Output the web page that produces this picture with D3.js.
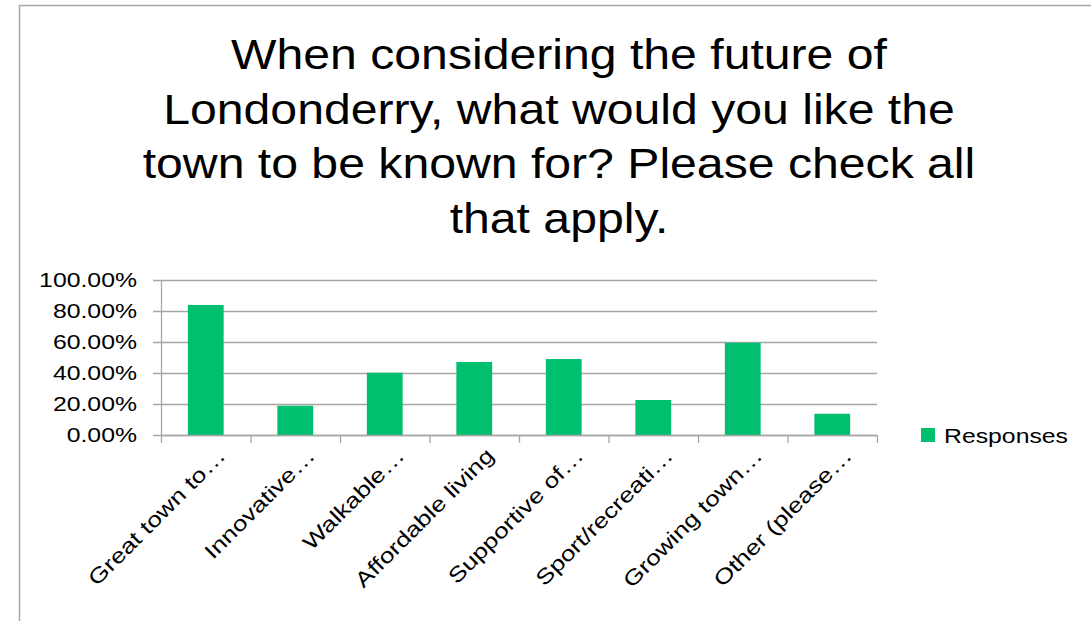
<!DOCTYPE html>
<html><head><meta charset="utf-8">
<script src="https://cdn.jsdelivr.net/npm/d3@7"></script>
<style>body{margin:0;background:#fff}svg{display:block}text{font-family:"Liberation Sans",Arial,sans-serif}</style>
</head><body>
<svg id="c" width="1091" height="621"></svg>
<script>
const categories = ["Great town to…","Innovative…","Walkable…","Affordable living","Supportive of…","Sport/recreati…","Growing town…","Other (please…"];
const values = [0.839, 0.189, 0.402, 0.471, 0.490, 0.226, 0.595, 0.137];
const yTicks = [0, 0.2, 0.4, 0.6, 0.8, 1.0];
const titleLines = ["When considering the future of","Londonderry, what would you like the","town to be known for? Please check all","that apply."];
const seriesName = "Responses";

const svg = d3.select("#c");
function stretch(sel, f){
  sel.each(function(){
    const L = this.getComputedTextLength();
    d3.select(this).attr("textLength", L*f).attr("lengthAdjust","spacingAndGlyphs");
  });
}
// frame
svg.append("rect").attr("x",19.5).attr("y",5.5).attr("width",1100).attr("height",700)
  .attr("fill","none").attr("stroke","#a6a6a6").attr("stroke-width",1.5);

// title
const tl = svg.append("g").selectAll("text").data(titleLines).join("text")
  .attr("text-anchor","middle").attr("font-size",43).attr("fill","#000")
  .attr("x",559).attr("y",(d,i)=>69+i*54.5).text(d=>d);
stretch(tl, 1.12);

const x = d3.scaleBand().domain(categories).range([161,877]).paddingInner(0.6).paddingOuter(0.3);
const y = d3.scaleLinear().domain([0,1]).range([435,280]);

// gridlines
svg.append("g").selectAll("line").data(yTicks).join("line")
  .attr("x1",153).attr("x2",877).attr("y1",d=>Math.round(y(d))+0.5).attr("y2",d=>Math.round(y(d))+0.5)
  .attr("stroke","#a6a6a6").attr("stroke-width",1.3);

// y axis
const yAxis = d3.axisLeft(y).tickValues(yTicks).tickFormat(d=>d3.format(".2f")(d*100)+"%").tickSize(0).tickPadding(24);
const gy = svg.append("g").attr("transform","translate(161,0)").call(yAxis);
gy.select(".domain").attr("stroke","#a6a6a6").attr("stroke-width",1.3);
gy.selectAll("text").attr("font-size",20).attr("fill","#000").attr("font-family","Liberation Sans, Arial, sans-serif");
stretch(gy.selectAll("text"), 1.24);

// bars
svg.append("g").selectAll("rect").data(values).join("rect")
  .attr("x",(d,i)=>x(categories[i])).attr("width",x.bandwidth())
  .attr("y",d=>y(d)).attr("height",d=>y(0)-y(d)).attr("fill","#00bf6f");

// x axis
const xPos = d3.scalePoint().domain(d3.range(categories.length+1)).range([161,877]);
const gx = svg.append("g");
gx.append("line").attr("x1",161).attr("x2",877).attr("y1",435.5).attr("y2",435.5).attr("stroke","#a6a6a6").attr("stroke-width",1.3);
gx.selectAll("line.t").data(d3.range(categories.length+1)).join("line").attr("class","t")
  .attr("x1",d=>xPos(d)+0.5).attr("x2",d=>xPos(d)+0.5).attr("y1",435).attr("y2",443)
  .attr("stroke","#a6a6a6").attr("stroke-width",1.3);
const xl = gx.selectAll("text").data(categories).join("text")
  .attr("text-anchor","end").attr("font-size",21).attr("fill","#000")
  .attr("transform",d=>`translate(${x(d)+x.bandwidth()/2+21},457) rotate(-45)`)
  .text(d=>d);
stretch(xl, 1.25);

// legend
svg.append("rect").attr("x",921).attr("y",428).attr("width",14).attr("height",14).attr("fill","#00bf6f");
const lt = svg.append("text").attr("x",944).attr("y",443).attr("font-size",21).attr("fill","#000").text(seriesName);
stretch(lt, 1.18);
</script>
</body></html>
